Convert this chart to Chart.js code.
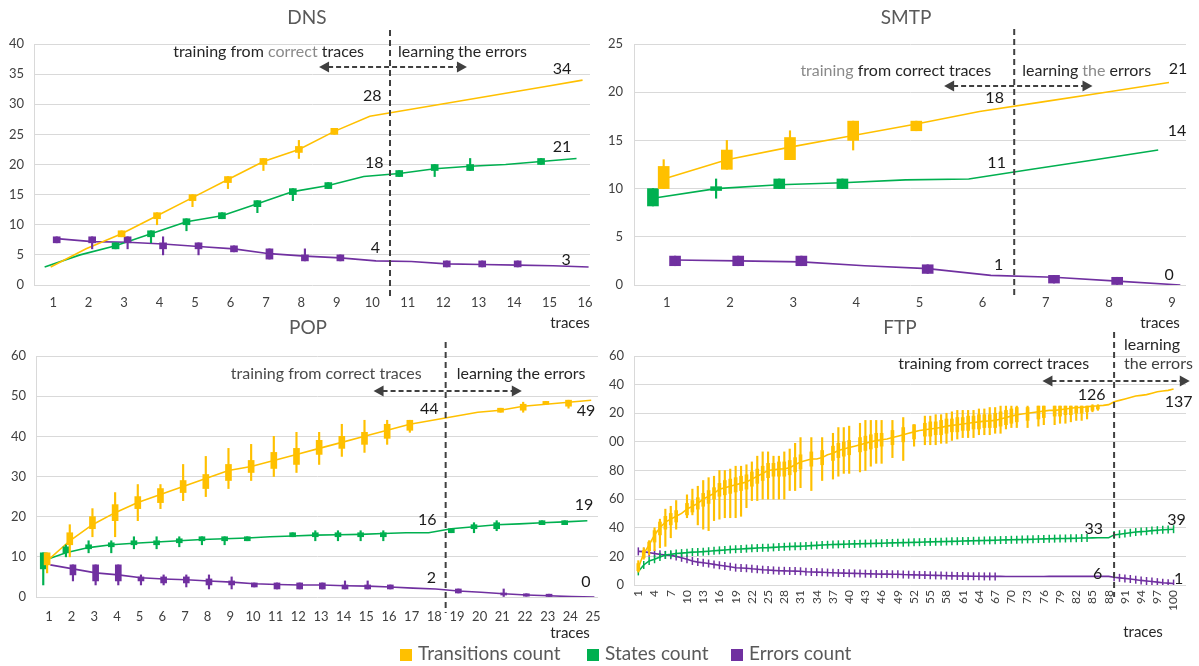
<!DOCTYPE html>
<html>
<head>
<meta charset="utf-8">
<script src="https://cdn.jsdelivr.net/npm/chart.js@4.4.1/dist/chart.umd.min.js"></script>
<style>
  body { margin: 0; background: #fff; }
  #page { position: relative; width: 1199px; height: 666px; overflow: hidden; font-family: Lato, 'Open Sans', sans-serif; }
  #page canvas { position: absolute; }
  #ftpBox { position: absolute; left: 609px; top: 320px; width: 590px; height: 346px; overflow: hidden; }
  .key { position: absolute; top: 641px; font-size: 19px; line-height: 24px; color: #595959; white-space: nowrap; }
  .key i { display: inline-block; width: 12px; height: 12px; margin-right: 6px; vertical-align: -0.5px; }
</style>
</head>
<body>
<div id="page">
  <canvas id="dns" width="600" height="340" style="left:0;top:0"></canvas>
  <canvas id="smtp" width="599" height="340" style="left:600px;top:0"></canvas>
  <canvas id="pop" width="600" height="346" style="left:0;top:320px"></canvas>
  <div id="ftpBox"><canvas id="ftp" width="611" height="346" style="left:-21px;top:0"></canvas></div>
  <div class="key" style="left:400px"><i style="background:#FFC000"></i>Transitions count</div>
  <div class="key" style="left:587px"><i style="background:#00B050"></i>States count</div>
  <div class="key" style="left:731px"><i style="background:#7030A0"></i>Errors count</div>
</div>
<script>
'use strict';

// ---- DNS ----
const dnsTraces = [1, 2, 3, 4, 5, 6, 7, 8, 9, 10, 11, 12, 13, 14, 15, 16];
const dnsTransitions = [3, 6, 8.5, 11.5, 14.5, 17.5, 20.5, 22.5, 25.5, 28, 29, 30, 31, 32, 33, 34];
const dnsStates = [3, 5, 6.5, 8.5, 10.5, 11.5, 13.5, 15.5, 16.5, 18, 18.5, 19.3, 19.7, 20, 20.5, 21];
const dnsErrors = [7.7, 7.2, 7.1, 6.8, 6.4, 6, 5.2, 4.8, 4.5, 4, 3.9, 3.5, 3.4, 3.3, 3.2, 3];
// [whisker low, box low, box high, whisker high]
const dnsTransitionBoxes = [null, null, [8, 8, 9, 9], [10, 11, 12, 12], [13, 14, 15, 15], [16, 17, 18, 18],
  [19, 20, 21, 21], [21, 22, 23, 24], [25, 25, 26, 26], null, null, null, null, null, null, null];
const dnsStateBoxes = [null, null, [6, 6, 7, 7], [7, 8, 9, 9], [9, 10, 11, 11], [11, 11, 12, 12], [12, 13, 14, 14],
  [14, 15, 16, 16], [16, 16, 17, 17], null, [18, 18, 19, 19], [18, 19, 20, 20], [19, 19, 20, 21], null, [20, 20, 21, 21], null];
const dnsErrorBoxes = [[7, 7, 8, 8], [6, 7, 8, 8], [6, 7, 8, 8], [5, 6, 7, 8], [5, 6, 7, 7], [5.5, 5.5, 6.5, 6.5],
  [4.3, 4.3, 6, 6], [4, 4, 5, 6], [4, 4, 5, 5], null, null, [3, 3, 4, 4], [3, 3, 4, 4], [3, 3, 4, 4], null, null];

// ---- SMTP ----
const smtpTraces = [1, 2, 3, 4, 5, 6, 7, 8, 9];
const smtpTransitions = [11, 13, 14.3, 15.5, 16.7, 18, 19, 20, 21];
const smtpStates = [9, 10, 10.4, 10.6, 10.9, 11, 12, 13, 14];
const smtpErrors = [2.6, 2.5, 2.4, 2, 1.7, 1, 0.8, 0.4, 0];
const smtpTransitionBoxes = [[10, 10, 12.3, 13], [12, 12, 14, 15], [13, 13, 15.3, 16], [14, 15, 17, 17], [16, 16, 17, 17], null, null, null, null];
const smtpStateBoxes = [[8.2, 8.2, 10, 10], [9, 9.8, 10.2, 11], [10, 10, 11, 11], [10, 10, 11, 11], null, null, null, null, null];
const smtpErrorBoxes = [[2, 2, 3, 3], [2, 2, 3, 3], [2, 2, 3, 3], null, [1.2, 1.2, 2.1, 2.1], null, [0.2, 0.2, 1, 1], [0, 0, 0.8, 0.8], null];

// ---- POP ----
const popTraces = [1, 2, 3, 4, 5, 6, 7, 8, 9, 10, 11, 12, 13, 14, 15, 16, 17, 18, 19, 20, 21, 22, 23, 24, 25];
const popTransitions = [9, 14, 18, 21, 23.5, 25.5, 27.5, 29.5, 31.5, 32.5, 34, 35.5, 37, 38.5, 40, 41.5, 43, 44, 45, 46, 46.5, 47.5, 48, 48.5, 49];
const popStates = [9, 11, 12.3, 13, 13.4, 13.7, 14, 14.3, 14.5, 14.7, 15, 15.2, 15.4, 15.5, 15.6, 15.8, 16, 16, 17, 17.5, 18, 18.2, 18.5, 18.7, 19];
const popErrors = [8, 7, 6, 5.5, 4.8, 4.5, 4.3, 4, 3.7, 3.3, 3.1, 3, 3, 2.8, 2.7, 2.5, 2.2, 2, 1.5, 1.2, 0.8, 0.5, 0.3, 0.1, 0];
const popTransitionBoxes = [
  [6, 8, 11, 11], [10, 13, 16, 18], [15, 17, 20, 22], [15, 19, 23, 26], [19, 22, 25, 28],
  [22, 23.5, 27, 28], [24, 26, 29, 33], [25, 27, 30.5, 35], [27, 29, 33, 37], [29, 31, 34, 38],
  [30, 32, 36, 40], [31, 33, 37, 41], [33, 35.5, 39, 41], [35, 37, 40, 43], [36, 38, 41, 44],
  [38, 39.5, 43, 44], [41, 41.5, 44, 44], null, null, null,
  [46, 46, 47, 47], [46, 46.5, 48, 48.5], [48, 48, 48.7, 48.7], [47, 47.5, 49, 49], null];
const popStateBoxes = [
  [3, 7, 11, 11], [10, 11, 12.5, 13], [11, 12, 13, 14], [11, 12.5, 13.5, 14], [12, 13, 14, 15],
  [12, 13, 14, 15], [12.5, 13.5, 14.5, 15], [13, 14, 15, 15], [13, 14, 15, 15], [14, 14, 15, 15],
  null, [15, 15, 16, 16], [14, 15, 16, 16.5], [14, 15, 16, 16.5], [14, 15, 16, 16.5],
  [14, 15, 16, 16.5], null, null, [16, 16, 17, 17], [16, 17, 18, 18.5],
  [16.5, 17, 18.5, 19], null, [18, 18, 19, 19], [18, 18, 19, 19], null];
const popErrorBoxes = [
  null, [4, 5.5, 8, 8], [3, 4, 8, 8], [3, 4, 8, 8], [3, 4, 5, 5.5],
  [3, 3.5, 5, 5.5], [2.5, 3.5, 5, 5.5], [2, 3, 4.5, 5.5], [2, 3, 4, 5], [2.5, 2.5, 3.5, 3.5],
  [2, 2, 3.5, 3.5], [2, 2, 3.5, 3.5], [2, 2, 3.5, 3.5], [2, 2, 3, 4], [2, 2, 3, 4],
  [2, 2, 3, 3], null, null, [1, 1, 2, 2], null,
  [0, 0.5, 1, 2], [0.2, 0.2, 0.8, 0.8], [0, 0, 0.7, 0.7], null, null];

// ---- FTP ----
const ftpTraces = [
  1, 2, 3, 4, 5, 6, 7, 8, 9, 10, 11, 12, 13, 14, 15, 16, 17, 18, 19, 20,
  21, 22, 23, 24, 25, 26, 27, 28, 29, 30, 31, 32, 33, 34, 35, 36, 37, 38, 39, 40,
  41, 42, 43, 44, 45, 46, 47, 48, 49, 50, 51, 52, 53, 54, 55, 56, 57, 58, 59, 60,
  61, 62, 63, 64, 65, 66, 67, 68, 69, 70, 71, 72, 73, 74, 75, 76, 77, 78, 79, 80,
  81, 82, 83, 84, 85, 86, 87, 88, 89, 90, 91, 92, 93, 94, 95, 96, 97, 98, 99, 100];
const ftpTransitions = [
  12, 22, 28, 35, 40, 44, 46, 48, 50, 53,
  55, 57, 60, 62, 64, 67, 68, 69, 70, 71,
  72, 74, 76, 78, 80, 80.5, 81, 81, 82, 84,
  86, 87, 88, 88, 89, 91, 92, 94, 95, 96,
  97, 98, 99, 100, 101, 101.5, 102, 103, 104, 105,
  106, 107, 108, 108.5, 109, 109.5, 110, 111, 111.5, 112,
  112.5, 113, 113.5, 114, 114.5, 114.7, 115, 116, 117, 118,
  119, 119.5, 120, 120.5, 121, 121.5, 122, 122, 122.5, 123,
  123.5, 124, 124, 124.5, 125, 125.2, 125.5, 126, 128, 129,
  130, 131, 132, 132.5, 133, 134, 135, 135.5, 136, 137];
const ftpStates = [
  9.5, 14, 16.8, 18, 19.6, 21, 21.4, 22, 22.3, 22.6,
  23, 23.1, 23.3, 23.6, 23.9, 24.2, 24.5, 24.8, 25, 25.2,
  25.4, 25.6, 25.8, 26, 26.1, 26.3, 26.5, 26.7, 26.9, 27,
  27.1, 27.3, 27.5, 27.7, 27.9, 28.1, 28.3, 28.4, 28.5, 28.6,
  28.7, 28.8, 28.9, 29, 29.1, 29.2, 29.3, 29.4, 29.5, 29.6,
  29.7, 29.8, 29.9, 30, 30.1, 30.2, 30.3, 30.4, 30.5, 30.6,
  30.7, 30.8, 30.9, 31, 31.1, 31.2, 31.3, 31.4, 31.5, 31.6,
  31.7, 31.8, 31.9, 32, 32.1, 32.2, 32.3, 32.4, 32.5, 32.5,
  32.6, 32.7, 32.8, 32.8, 32.9, 33, 33, 33, 35, 35.5,
  36, 36.5, 37, 37.3, 37.6, 38, 38.3, 38.6, 38.8, 39];
const ftpErrors = [
  23.5, 23.3, 22.6, 22, 21.4, 21, 20.7, 20, 19, 18,
  16.8, 16, 15.6, 15, 14.4, 13.8, 13.3, 12.7, 12.1, 11.9,
  11.7, 11.3, 11, 10.7, 10.5, 10.2, 10, 9.9, 9.8, 9.7,
  9.6, 9.3, 9.1, 9, 8.9, 8.7, 8.6, 8.4, 8.3, 8.2,
  8.1, 8, 7.9, 7.8, 7.7, 7.6, 7.6, 7.5, 7.5, 7.3,
  7.2, 7.1, 7, 6.9, 6.8, 6.7, 6.6, 6.5, 6.4, 6.3,
  6.3, 6.2, 6.1, 6.1, 6, 6, 6, 6, 5.9, 5.9,
  5.9, 5.9, 5.9, 5.9, 5.9, 5.9, 6, 6, 6, 6,
  6, 6, 6, 6, 6, 6, 6, 6, 5.4, 5,
  4.6, 4.2, 3.7, 3.2, 2.8, 2.4, 2, 1.6, 1.3, 1];
const ftpTransitionBoxes = [
  [9, 10, 15, 17], [18, 19, 24, 26], [21, 24, 30, 31], [24, 30, 38, 40], [26, 35, 44, 46], [27, 39, 48, 53], [33, 42, 50, 55], [39, 44, 52, 59], null, [47, 49, 57, 63],
  [49, 51, 59, 67], [42, 53, 61, 69], [39, 55, 64, 73], [38, 57, 66, 75], [45, 60, 68, 76], [46, 62, 71, 80], [47, 63, 73, 80], [47, 64, 74, 81], [47, 65, 75, 83], [48, 66, 76, 83],
  [54, 67, 77, 84], [59, 69, 79, 86], [59, 71, 81, 90], [60, 73, 83, 93], [60, 75, 85, 93], [60, 76, 85, 90], [60, 76, 86, 90], [60, 76, 86, 93], [66, 77, 87, 95], [66, 79, 89, 99],
  [68, 81, 91, 103], null, [66, 83, 93, 103], null, [73, 84, 94, 103], null, [74, 87, 97, 106], [76, 89, 99, 110], [78, 90, 100, 110], [78, 91, 101, 111],
  null, [79, 93, 103, 113], [80, 94, 104, 115], [83, 95, 105, 115], [85, 96, 106, 115], [85, 97, 106, 115], null, [89, 98, 108, 115], null, [87, 100, 110, 117],
  null, [97, 102, 112, 112], null, [98, 104, 113, 118], [98, 104, 114, 118], [98, 105, 114, 119], [99, 105, 115, 119], [99, 106, 116, 120], [101, 107, 116, 121], [102, 107, 117, 122],
  [103, 108, 117, 122], [103, 108, 118, 122], [103, 109, 118, 122], [105, 109, 119, 123], [105, 110, 119, 123], [105, 110, 119, 124], [106, 110, 120, 124], [106, 111, 121, 125], [109, 112, 122, 125], [110, 113, 123, 125],
  [110, 114, 124, 125], null, [110, 115, 124, 125], null, [111, 116, 125, 125], [112, 117, 125, 125], null, [112, 118, 125, 125], [113, 118, 125, 125], [113, 119, 125, 125],
  [114, 119, 125, 125], [115, 120, 125, 125], [115, 120, 125, 125], [116, 121, 125, 125], [121, 122, 125, 126], [122, 123, 125, 126], null, null, null, null,
  null, null, null, null, null, null, null, null, null, null];

const YELLOW = '#FFC000', GREEN = '#00B050', PURPLE = '#7030A0';
const FONT = 'Lato, "Open Sans", sans-serif';
const DARK = '#262626', GREY = '#8a8a8a';

// annotation settings per canvas
const notes = {
  dns: {
    title: 'DNS', titleDx: -5, titleY: 18, axisDx: -20, axisDy: 38,
    split: 10.5, splitUp: 14, splitDown: 13,
    arrowFrom: 8.5, arrowTo: 12.67, arrowDy: 23,
    beforeDx: -26, textDy: 8,
    before: [['training from ', DARK], ['correct', GREY], [' traces', DARK]],
    afterDx: 8, after: [{ dy: 8, parts: [['learning the errors', DARK]] }],
    traces: dnsTraces,
    tags: [
      { v: dnsTransitions, i: 9, dx: 0, dy: -20 }, { v: dnsStates, i: 9, dx: 2, dy: -14 }, { v: dnsErrors, i: 9, dx: 3, dy: -13 },
      { v: dnsTransitions, i: 15, dx: -23, dy: -11 }, { v: dnsStates, i: 15, dx: -23, dy: -12 }, { v: dnsErrors, i: 15, dx: -19, dy: -7 }
    ]
  },
  smtp: {
    title: 'SMTP', titleDx: -4, titleY: 18, axisDx: -26, axisDy: 38,
    split: 6.5, splitUp: 15, splitDown: 13,
    arrowFrom: 5.39, arrowTo: 7.74, arrowDy: 42,
    beforeDx: -23, textDy: 27,
    before: [['training', GREY], [' from correct traces', DARK]],
    afterDx: 8, after: [{ dy: 27, parts: [['learning ', DARK], ['the', GREY], [' errors', DARK]] }],
    traces: smtpTraces,
    tags: [
      { v: smtpTransitions, i: 5, dx: 12, dy: -14 }, { v: smtpStates, i: 5, dx: 14, dy: -16 }, { v: smtpErrors, i: 5, dx: 16, dy: -11 },
      { v: smtpTransitions, i: 8, dx: 6, dy: -14 }, { v: smtpStates, i: 8, dx: 5, dy: -19 }, { v: smtpErrors, i: 8, dx: -3, dy: -10 }
    ]
  },
  pop: {
    title: 'POP', titleDx: -9, titleY: 8, axisDx: -28, axisDy: 36,
    split: 18.5, splitUp: 14, splitDown: 16,
    arrowFrom: 15.32, arrowTo: 21.86, arrowDy: 35,
    beforeDx: -24, textDy: 18,
    before: [['training from correct traces', '#4a4a4a']],
    afterDx: 11, after: [{ dy: 18, parts: [['learning the errors', DARK]] }],
    traces: popTraces,
    tags: [
      { v: popTransitions, i: 17, dx: -5, dy: -11 }, { v: popStates, i: 17, dx: -7, dy: -13 }, { v: popErrors, i: 17, dx: -3, dy: -11 },
      { v: popTransitions, i: 24, dx: -7, dy: 11 }, { v: popStates, i: 24, dx: -9, dy: -16 }, { v: popErrors, i: 24, dx: -7, dy: -15 }
    ]
  },
  ftp: {
    title: 'FTP', titleDx: -10, titleY: 8, axisDx: -43, axisDy: 47,
    split: 89, splitUp: 24, splitDown: 12,
    arrowFrom: 75.75, arrowTo: 103, arrowDy: 25,
    beforeDx: -25, textDy: 8,
    before: [['training from correct traces', DARK]],
    afterDx: 10, after: [{ dy: -11, parts: [['learning', DARK]] }, { dy: 8, parts: [['the errors', '#404040']] }],
    traces: ftpTraces,
    tags: [
      { v: ftpTransitions, i: 87, dx: -17, dy: -10 }, { v: ftpStates, i: 87, dx: -15, dy: -9 }, { v: ftpErrors, i: 87, dx: -11, dy: -3 },
      { v: ftpTransitions, i: 99, dx: 5, dy: 13 }, { v: ftpStates, i: 99, dx: 3, dy: -9 }, { v: ftpErrors, i: 99, dx: 5, dy: -5 }
    ]
  }
};

function drawParts(ctx, parts, x, y, align) {
  const w = parts.reduce((s, p) => s + ctx.measureText(p[0]).width, 0);
  let cx = align === 'right' ? x - w : x;
  ctx.textAlign = 'left';
  parts.forEach(p => {
    ctx.fillStyle = p[1];
    ctx.fillText(p[0], cx, y);
    cx += ctx.measureText(p[0]).width;
  });
}

function arrowHead(ctx, x, y, dir) {
  ctx.beginPath();
  ctx.moveTo(x, y);
  ctx.lineTo(x - dir * 10, y - 5.5);
  ctx.lineTo(x - dir * 10, y + 5.5);
  ctx.closePath();
  ctx.fill();
}

const notesPlugin = {
  id: 'notes',
  afterDraw(chart) {
    const o = notes[chart.canvas.id];
    const { ctx, chartArea: a } = chart;
    const x = chart.scales.x, y = chart.scales.y;
    ctx.save();
    ctx.textBaseline = 'middle';

    ctx.font = '19px ' + FONT;
    ctx.fillStyle = '#595959';
    ctx.textAlign = 'center';
    ctx.fillText(o.title, (a.left + a.right) / 2 + o.titleDx, o.titleY);

    ctx.font = '15px ' + FONT;
    ctx.fillStyle = DARK;
    ctx.fillText('traces', a.right + o.axisDx, a.bottom + o.axisDy);

    // phase divider
    const sx = x.getPixelForValue(o.split);
    ctx.strokeStyle = '#404040';
    ctx.lineWidth = 2;
    ctx.setLineDash([6, 4]);
    ctx.beginPath();
    ctx.moveTo(sx, a.top - o.splitUp);
    ctx.lineTo(sx, a.bottom + o.splitDown);
    ctx.stroke();

    // double arrow
    const ay = a.top + o.arrowDy;
    const x1 = x.getPixelForValue(o.arrowFrom), x2 = x.getPixelForValue(o.arrowTo);
    ctx.setLineDash([5, 3]);
    ctx.beginPath();
    ctx.moveTo(x1 + 9, ay);
    ctx.lineTo(x2 - 9, ay);
    ctx.stroke();
    ctx.setLineDash([]);
    ctx.fillStyle = '#404040';
    arrowHead(ctx, x1, ay, -1);
    arrowHead(ctx, x2, ay, 1);

    ctx.font = '16px ' + FONT;
    drawParts(ctx, o.before, sx + o.beforeDx, a.top + o.textDy, 'right');
    o.after.forEach(l => drawParts(ctx, l.parts, sx + o.afterDx, a.top + l.dy, 'left'));

    // value tags
    ctx.font = '16px ' + FONT;
    ctx.fillStyle = '#1a1a1a';
    ctx.textAlign = 'center';
    o.tags.forEach(t => {
      const val = t.v[t.i];
      ctx.fillText(String(Math.round(val)), x.getPixelForValue(o.traces[t.i]) + t.dx, y.getPixelForValue(val) + t.dy);
    });
    ctx.restore();
  }
};

function inRanges(n, ranges) {
  return ranges.some(r => n >= r[0] && n <= r[1]);
}

function buildChart(id, cfg) {
  const sets = [];
  cfg.series.forEach(s => {
    sets.push({
      type: 'line',
      data: cfg.traces.map((t, i) => ({ x: t + s.shift, y: s.values[i] })),
      borderColor: s.color,
      borderWidth: 1.6,
      tension: 0,
      pointStyle: 'line',
      rotation: 90,
      pointBorderColor: s.color,
      pointBorderWidth: 1.5,
      pointRadius: s.marks ? (c => inRanges(c.dataIndex + 1, s.marks) ? 4 : 0) : 0,
      order: 1
    });
    if (s.boxes) {
      const pick = (lo, hi) => s.boxes
        .map((b, i) => b ? { x: cfg.traces[i] + s.shift, y: [b[lo], b[hi]] } : null)
        .filter(Boolean);
      sets.push({ type: 'bar', data: pick(0, 3), backgroundColor: s.color, grouped: false,
        barThickness: cfg.whiskerW, maxBarThickness: cfg.whiskerW, order: 0 });
      sets.push({ type: 'bar', data: pick(1, 2), backgroundColor: s.color, grouped: false,
        barThickness: cfg.boxW, maxBarThickness: cfg.boxW, order: 0 });
    }
  });

  return new Chart(document.getElementById(id), {
    type: 'line',
    data: { datasets: sets },
    options: {
      responsive: false,
      animation: false,
      devicePixelRatio: 1,
      layout: { padding: cfg.pad },
      plugins: { legend: { display: false }, tooltip: { enabled: false } },
      scales: {
        x: {
          type: 'linear', min: cfg.xMin, max: cfg.xMax, offset: false,
          grid: { display: false, drawTicks: false, offset: false },
          border: { display: false },
          ticks: {
            stepSize: 1, includeBounds: false, autoSkip: false, maxTicksLimit: 200,
            minRotation: cfg.rot, maxRotation: cfg.rot, padding: cfg.xPad,
            font: { family: FONT, size: cfg.xFont }, color: '#404040',
            callback: v => (v - 1) % cfg.every === 0 ? String(v) : ''
          },
          afterFit: s => { s.height = cfg.xH; s.paddingLeft = 0; s.paddingRight = 0; }
        },
        y: {
          min: 0, max: cfg.yMax,
          grid: { color: '#d9d9d9', drawTicks: false },
          border: { display: true, color: '#d9d9d9' },
          ticks: { stepSize: cfg.yStep, padding: cfg.yPad, font: { family: FONT, size: 13 }, color: '#404040' },
          afterFit: s => { s.width = cfg.yW; s.paddingTop = 0; s.paddingBottom = 0; }
        }
      }
    },
    plugins: [notesPlugin]
  });
}

buildChart('dns', {
  traces: dnsTraces, xMin: 0.46, xMax: 16.14, yMax: 40, yStep: 5,
  pad: { top: 44, left: 0, right: 10, bottom: 25 }, yW: 34, xH: 30, yPad: 10, xPad: 10,
  rot: 0, xFont: 13, every: 1, boxW: 7, whiskerW: 1.5,
  series: [
    { values: dnsTransitions, boxes: dnsTransitionBoxes, color: YELLOW, shift: -0.07 },
    { values: dnsStates, boxes: dnsStateBoxes, color: GREEN, shift: -0.24 },
    { values: dnsErrors, boxes: dnsErrorBoxes, color: PURPLE, shift: 0.1 }
  ]
});

buildChart('smtp', {
  traces: smtpTraces, xMin: 0.48, xMax: 9.22, yMax: 25, yStep: 5,
  pad: { top: 44, left: 0, right: 13, bottom: 25 }, yW: 34, xH: 30, yPad: 11, xPad: 10,
  rot: 0, xFont: 13, every: 1, boxW: 11, whiskerW: 1.5,
  series: [
    { values: smtpTransitions, boxes: smtpTransitionBoxes, color: YELLOW, shift: -0.05 },
    { values: smtpStates, boxes: smtpStateBoxes, color: GREEN, shift: -0.22 },
    { values: smtpErrors, boxes: smtpErrorBoxes, color: PURPLE, shift: 0.13 }
  ]
});

buildChart('pop', {
  traces: popTraces, xMin: 0.43, xMax: 25.22, yMax: 60, yStep: 10,
  pad: { top: 36, left: 0, right: 2, bottom: 39 }, yW: 36, xH: 30, yPad: 10, xPad: 12,
  rot: 0, xFont: 13, every: 1, boxW: 6, whiskerW: 1.5,
  series: [
    { values: popTransitions, boxes: popTransitionBoxes, color: YELLOW, shift: -0.08 },
    { values: popStates, boxes: popStateBoxes, color: GREEN, shift: -0.25 },
    { values: popErrors, boxes: popErrorBoxes, color: PURPLE, shift: 0.06 }
  ]
});

buildChart('ftp', {
  traces: ftpTraces, xMin: 0.2, xMax: 102.3, yMax: 160, yStep: 20,
  pad: { top: 36, left: 0, right: 13, bottom: 21 }, yW: 46, xH: 60, yPad: 10, xPad: 5,
  rot: 90, xFont: 12, every: 3, boxW: 3, whiskerW: 1.5,
  series: [
    { values: ftpTransitions, boxes: ftpTransitionBoxes, color: YELLOW, shift: 0 },
    { values: ftpStates, color: GREEN, shift: 0, marks: [[1, 84], [89, 100]] },
    { values: ftpErrors, color: PURPLE, shift: 0, marks: [[1, 67], [89, 100]] }
  ]
});
</script>
</body>
</html>
